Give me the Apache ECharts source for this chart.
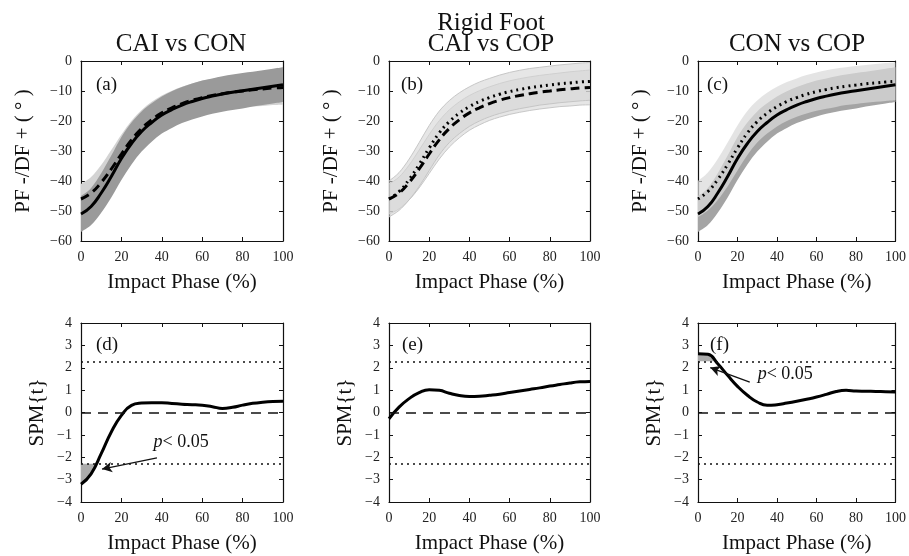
<!DOCTYPE html>
<html><head><meta charset="utf-8">
<script src="https://cdn.jsdelivr.net/npm/echarts@6/dist/echarts.min.js"></script>
<style>html,body{margin:0;padding:0;background:#fff}#c{width:909px;height:556px}</style>
</head><body><div id="c"></div>
<script>
// ---------- data ----------
const phase = [0,5,10,15,20,25,30,35,40,45,50,55,60,65,70,75,80,85,90,95,100];

const CAI_mean = [-46,-44,-40.5,-36,-31,-26.3,-22.5,-19.6,-17.3,-15.6,-14.2,-13.1,-12.2,-11.5,-10.9,-10.4,-10,-9.6,-9.3,-9,-8.8];
const CAI_sd   = [5,5.3,5.8,6.3,6.5,6.4,6.2,6,5.8,5.7,5.6,5.6,5.6,5.6,5.6,5.6,5.6,5.6,5.7,5.7,5.8];
const CON_mean = [-51,-48.5,-44,-38.5,-32.5,-27.5,-23.5,-20.5,-18,-16.2,-14.7,-13.5,-12.5,-11.7,-11,-10.4,-9.9,-9.4,-8.9,-8.4,-7.9];
const CON_sd   = [6,6.2,6.6,7,7.2,7,6.7,6.4,6.2,6.1,6,6,6,5.9,5.9,5.9,5.9,5.8,5.8,5.8,5.8];
const COP_mean = [-46,-43.5,-39.5,-34.5,-29,-24,-20.2,-17.4,-15.2,-13.5,-12.2,-11.1,-10.2,-9.5,-8.9,-8.4,-8,-7.6,-7.3,-7,-6.8];
const COP_sd   = [6,6.3,6.8,7.3,7.5,7.3,7,6.8,6.6,6.5,6.4,6.4,6.4,6.4,6.4,6.3,6.3,6.3,6.3,6.3,6.3];

const spmD = [-3.21,-2.74,-1.84,-0.87,-0.13,0.32,0.42,0.44,0.44,0.4,0.37,0.35,0.32,0.26,0.18,0.23,0.33,0.41,0.46,0.49,0.5];
const spmE = [-0.28,0.24,0.62,0.89,1.02,0.99,0.86,0.76,0.72,0.73,0.77,0.82,0.89,0.96,1.03,1.1,1.18,1.25,1.32,1.37,1.39];
const spmF = [2.63,2.6,2.18,1.66,1.17,0.77,0.47,0.32,0.35,0.42,0.5,0.59,0.69,0.81,0.94,0.99,0.96,0.95,0.94,0.93,0.92];
const spmThreshold = 2.29;

const topTitles = ['CAI vs CON', 'CAI vs COP', 'CON vs COP'];
const suptitle = 'Rigid Foot';
const panelLabels = ['(a)','(b)','(c)','(d)','(e)','(f)'];
const xName = 'Impact Phase (%)';
const yNameTop = 'PF -/DF + ( ° )';
const yNameBottom = 'SPM{t}';
const annotText = '< 0.05';
// annotation arrows (data coordinates): [tailX, tailY, headX, headY]
const arrowD = [37.6, -2.03, 10.4, -2.53];
const arrowF = [26.2, 1.36, 6.2, 2.01];
const textD = [49.6, -1.33];
const textF = [44.2, 1.73];

// ---------- layout ----------
const FONT = '"Liberation Serif", "Times New Roman", serif';
const grids = [
  {left:81, top:61, width:202, height:180},
  {left:389, top:61, width:201, height:180},
  {left:698, top:61, width:200, height:180},
  {left:81, top:323, width:202, height:179},
  {left:389, top:323, width:201, height:179},
  {left:698, top:323, width:200, height:179}
];
const labelPos = [[96,85],[401,85],[707,85],[96,345],[402,345],[710,345]];

function minusFmt(v){ return v < 0 ? '\u2212' + Math.abs(v) : String(v); }

const xAxis = [], yAxis = [];
const lineCol = '#111';
grids.forEach((g, i) => {
  const isTop = i < 3;
  const yr = isTop ? {min:-60, max:0, interval:10} : {min:-4, max:4, interval:1};
  const axLine = {show:true, onZero:false, lineStyle:{color:lineCol, width:1.2}};
  const tick = {show:true, inside:true, length:4, lineStyle:{color:lineCol, width:1}};
  xAxis.push({gridIndex:i, type:'value', min:0, max:100, interval:20, position:'bottom',
    name:xName, nameLocation:'middle', nameGap:31,
    nameTextStyle:{fontFamily:FONT, fontSize:21, color:'#111'},
    axisLine:axLine, axisTick:tick,
    axisLabel:{fontFamily:FONT, fontSize:14, color:'#222', margin:9, formatter:minusFmt},
    splitLine:{show:false}});
  xAxis.push({gridIndex:i, type:'value', min:0, max:100, interval:20, position:'top',
    axisLine:axLine, axisTick:tick, axisLabel:{show:false}, splitLine:{show:false}});
  yAxis.push(Object.assign({gridIndex:i, type:'value', position:'left',
    name: isTop ? yNameTop : yNameBottom, nameLocation:'middle', nameGap: isTop ? 47 : 33,
    nameTextStyle:{fontFamily:FONT, fontSize:21, color:'#111'},
    axisLine:axLine, axisTick:tick,
    axisLabel:{fontFamily:FONT, fontSize:14, color:'#222', margin:9, formatter:minusFmt},
    splitLine:{show:false}}, yr));
  yAxis.push(Object.assign({gridIndex:i, type:'value', position:'right',
    axisLine:axLine, axisTick:tick, axisLabel:{show:false}, splitLine:{show:false}}, yr));
});

// ---------- helpers ----------
// Catmull-Rom smoothed path through pixel points (already mapped by api.coord)
function smoothSeg(pts, startCmd) {
  let d = (startCmd || 'M') + pts[0][0] + ',' + pts[0][1];
  for (let k = 0; k < pts.length - 1; k++) {
    const p0 = pts[Math.max(k - 1, 0)], p1 = pts[k], p2 = pts[k + 1], p3 = pts[Math.min(k + 2, pts.length - 1)];
    const c1 = [p1[0] + (p2[0] - p0[0]) / 6, p1[1] + (p2[1] - p0[1]) / 6];
    const c2 = [p2[0] - (p3[0] - p1[0]) / 6, p2[1] - (p3[1] - p1[1]) / 6];
    d += 'C' + c1[0] + ',' + c1[1] + ' ' + c2[0] + ',' + c2[1] + ' ' + p2[0] + ',' + p2[1];
  }
  return d;
}

function band(gi, mean, sd, fill, edge) {
  const data = phase.map((x, k) => [x, mean[k] - sd[k], mean[k] + sd[k]]);
  return {type:'custom', xAxisIndex:gi*2, yAxisIndex:gi*2, data:data, silent:true, animation:false,
    encode:{x:0, y:[1,2]},
    renderItem(params, api) {
      if (params.dataIndex !== 0) return null;
      const up = data.map(d => api.coord([d[0], d[2]]));
      const lo = data.map(d => api.coord([d[0], d[1]]));
      const loRev = lo.slice().reverse();
      const area = smoothSeg(up, 'M') + 'L' + loRev[0][0] + ',' + loRev[0][1] + smoothSeg(loRev, 'L').slice(1 + (loRev[0][0] + ',' + loRev[0][1]).length) + 'Z';
      const children = [{type:'path', shape:{pathData: area}, style:{fill: fill, stroke:null}}];
      if (edge) {
        children.push({type:'path', shape:{pathData: smoothSeg(up, 'M')}, style:{fill:null, stroke:edge, lineWidth:0.9}});
        children.push({type:'path', shape:{pathData: smoothSeg(lo, 'M')}, style:{fill:null, stroke:edge, lineWidth:0.9}});
      }
      return {type:'group', children: children};
    }};
}
function meanLine(gi, mean, type) {
  return {type:'line', xAxisIndex:gi*2, yAxisIndex:gi*2, smooth:true, symbol:'none', silent:true,
    animation:false, z:3, data: phase.map((x, k) => [x, mean[k]]),
    lineStyle:{color:'#000', width:3, type:type}};
}
function sigFill(gi, spm, thr, sign) {
  return {type:'custom', xAxisIndex:gi*2, yAxisIndex:gi*2, data:[0], silent:true, animation:false, z:1,
    renderItem(params, api) {
      const polys = [];
      let cur = null;
      for (let k = 0; k < spm.length; k++) {
        const v = spm[k] * sign;
        if (v > thr) {
          if (!cur) {
            cur = [];
            if (k > 0) {
              const v0 = spm[k-1] * sign;
              const xc = phase[k-1] + (thr - v0) / (v - v0) * (phase[k] - phase[k-1]);
              cur.push([xc, sign * thr]);
            } else cur.push([phase[k], sign * thr]);
          }
          cur.push([phase[k], spm[k]]);
        } else if (cur) {
          const v0 = spm[k-1] * sign;
          const xc = phase[k-1] + (thr - v0) / (v - v0) * (phase[k] - phase[k-1]);
          cur.push([xc, sign * thr]);
          polys.push(cur); cur = null;
        }
      }
      if (cur) { cur.push([phase[phase.length-1], sign * thr]); polys.push(cur); }
      return {type:'group', children: polys.map(p => ({type:'polygon',
        shape:{points: p.map(q => api.coord(q))}, style:{fill:'#ababab'}}))};
    }};
}
function spmLine(gi, spm, arrow, txt) {
  const mlData = [
    {yAxis:0, lineStyle:{type:[10,7], width:1.5, color:'#111'}},
    {yAxis:spmThreshold, lineStyle:{type:[2,4], width:1.6, color:'#111'}},
    {yAxis:-spmThreshold, lineStyle:{type:[2,4], width:1.6, color:'#111'}}
  ];
  if (arrow) mlData.push([
    {coord:[arrow[0], arrow[1]], symbol:'none', lineStyle:{type:'solid', width:1.3, color:'#111', curveness:0.12}},
    {coord:[arrow[2], arrow[3]], symbol:'arrow', symbolSize:[8,10]}
  ]);
  const s = {type:'line', xAxisIndex:gi*2, yAxisIndex:gi*2, smooth:true, symbol:'none', silent:true,
    animation:false, z:3, data: phase.map((x, k) => [x, spm[k]]),
    lineStyle:{color:'#000', width:3},
    markLine:{silent:true, symbol:'none', label:{show:false}, animation:false, data:mlData}};
  if (txt) s.markPoint = {silent:true, animation:false, symbol:'circle', symbolSize:0,
    data:[{coord:txt, label:{show:true, position:'inside',
      formatter:'{i|p}{n|' + annotText + '}',
      rich:{i:{fontFamily:FONT, fontStyle:'italic', fontSize:18, color:'#111'},
            n:{fontFamily:FONT, fontSize:18, color:'#111'}}}}]};
  return s;
}

const series = [].concat(
  // (a) CAI vs CON
  [band(0, CAI_mean, CAI_sd, '#d3d3d3', null),
   band(0, CON_mean, CON_sd, '#9a9a9a', null),
   meanLine(0, CON_mean, 'solid'), meanLine(0, CAI_mean, [9,5])],
  // (b) CAI vs COP
  [band(1, CAI_mean, CAI_sd, 'rgba(213,213,213,0.6)', '#c2c2c2'),
   band(1, COP_mean, COP_sd, 'rgba(213,213,213,0.6)', '#c2c2c2'),
   meanLine(1, CAI_mean, [9,5]), meanLine(1, COP_mean, [2,4])],
  // (c) CON vs COP
  [band(2, CON_mean, CON_sd, '#a4a4a4', null),
   band(2, COP_mean, COP_sd, 'rgba(217,217,217,0.72)', null),
   meanLine(2, CON_mean, 'solid'), meanLine(2, COP_mean, [2,4])],
  // SPM panels
  [sigFill(3, spmD, spmThreshold, -1), spmLine(3, spmD, arrowD, textD)],
  [spmLine(4, spmE, null, null)],
  [sigFill(5, spmF, spmThreshold, 1), spmLine(5, spmF, arrowF, textF)]
);

const titleCenters = [[181,44],[491,44],[797,44]];
const graphic = [];
topTitles.forEach((t, i) => graphic.push({type:'text', x:titleCenters[i][0], y:titleCenters[i][1],
  style:{text:t, fontFamily:FONT, fontSize:25, fill:'#111', textAlign:'center', textVerticalAlign:'middle'}}));
graphic.push({type:'text', x:491, y:23, style:{text:suptitle, fontFamily:FONT, fontSize:25, fill:'#111',
  textAlign:'center', textVerticalAlign:'middle'}});
panelLabels.forEach((t, i) => graphic.push({type:'text', x:labelPos[i][0], y:labelPos[i][1], z:10,
  style:{text:t, fontFamily:FONT, fontSize:19, fill:'#111', textAlign:'left', textVerticalAlign:'middle'}}));

const chart = echarts.init(document.getElementById('c'));
chart.setOption({
  animation:false,
  backgroundColor:'#fff',
  grid: grids,
  xAxis: xAxis,
  yAxis: yAxis,
  series: series,
  graphic: graphic
});
</script></body></html>
